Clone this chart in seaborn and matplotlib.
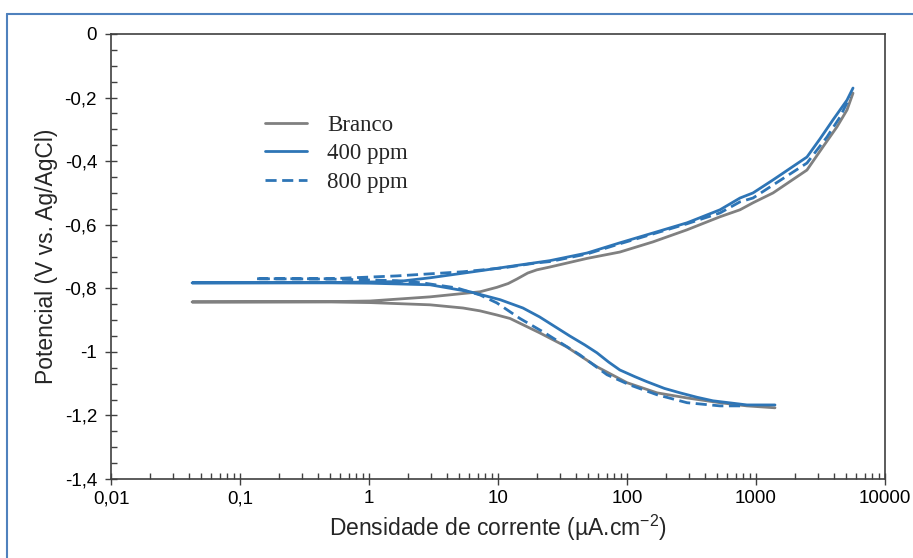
import matplotlib
matplotlib.use("Agg")
import matplotlib.pyplot as plt
import matplotlib.ticker as mticker
from matplotlib.lines import Line2D
import numpy as np
import pandas as pd
import seaborn as sns

# Branco: cathodic branch (high current -> Ecorr), then anodic branch
branco_i = [1404, 851, 526, 292, 171, 100, 58.5, 34, 21, 12.4, 9.8, 7.25, 5.35, 2.97, 1.02, 0.5, 0.0425,
            0.5, 1.02, 2.97, 7.25, 9.8, 12, 14, 17, 20, 25.3, 49, 88, 159, 292, 526, 752, 948, 1356, 2483,
            3305, 4245, 5075, 5650]
branco_E = [-1.176, -1.170, -1.160, -1.145, -1.129, -1.097, -1.047, -0.984, -0.940, -0.895, -0.884, -0.871,
            -0.862, -0.852, -0.845, -0.843, -0.843,
            -0.842, -0.840, -0.827, -0.811, -0.797, -0.785, -0.771, -0.752, -0.742, -0.733, -0.706, -0.686,
            -0.654, -0.616, -0.575, -0.553, -0.531, -0.500, -0.428, -0.355, -0.292, -0.239, -0.186]

ppm400_i = [1404, 851, 464, 350, 258, 195, 143, 115, 88, 72, 58.5, 47, 36, 21, 15.6, 10.4, 6.07, 2.97, 1.02,
            0.5, 0.0425,
            0.5, 1.65, 2.97, 7.25, 14, 25.3, 49, 88, 159, 292, 526, 752, 948, 1356, 2483, 3133, 3954,
            5075, 5650]
ppm400_E = [-1.167, -1.167, -1.154, -1.143, -1.129, -1.115, -1.094, -1.078, -1.057, -1.032, -1.003, -0.978,
            -0.950, -0.890, -0.862, -0.836, -0.811, -0.789, -0.784, -0.783, -0.783,
            -0.782, -0.779, -0.767, -0.745, -0.728, -0.713, -0.689, -0.657, -0.626, -0.594, -0.553, -0.516,
            -0.500, -0.459, -0.387, -0.330, -0.270, -0.208, -0.170]

ppm800_i = [752, 526, 292, 171, 105, 70, 43, 23, 14.8, 9.8, 7.25, 4.8, 2.6, 1.65, 0.5, 0.131,
            0.5, 1.65, 5.35, 10.9, 20, 25.3, 49, 88, 159, 292, 526, 752, 948, 1356, 2483, 3550, 4480, 5350]
ppm800_E = [-1.170, -1.170, -1.160, -1.135, -1.104, -1.072, -1.009, -0.940, -0.895, -0.846, -0.821, -0.799,
            -0.783, -0.776, -0.771, -0.770,
            -0.770, -0.761, -0.748, -0.736, -0.720, -0.716, -0.692, -0.660, -0.629, -0.597, -0.563, -0.528,
            -0.516, -0.475, -0.406, -0.324, -0.261, -0.198]

series = ['Branco', '400 ppm', '800 ppm']
x_ticks = [0.01, 0.1, 1, 10, 100, 1000, 10000]
x_labels = ['0,01', '0,1', '1', '10', '100', '1000', '10000']
y_ticks = [0, -0.2, -0.4, -0.6, -0.8, -1.0, -1.2, -1.4]
y_labels = ['0', '-0,2', '-0,4', '-0,6', '-0,8', '-1', '-1,2', '-1,4']

frames = []
for name, i, E in [('Branco', branco_i, branco_E), ('400 ppm', ppm400_i, ppm400_E),
                   ('800 ppm', ppm800_i, ppm800_E)]:
    frames.append(pd.DataFrame({'i': i, 'E': E, 'amostra': name}))
df = pd.concat(frames, ignore_index=True)

sns.set_style('white')
plt.rcParams['font.family'] = ['Liberation Sans', 'DejaVu Sans']
plt.rcParams['mathtext.fontset'] = 'custom'
plt.rcParams['mathtext.rm'] = 'Liberation Sans'
plt.rcParams['mathtext.default'] = 'regular'

colors = {'Branco': '#808080', '400 ppm': '#2e75b6', '800 ppm': '#2e75b6'}
dashes = {'Branco': '', '400 ppm': '', '800 ppm': (4, 2)}
lw = 2.0

fig = plt.figure(figsize=(9.13, 5.58), dpi=100)
ax = fig.add_axes([111 / 913, 1 - 479 / 558, 774 / 913, 445 / 558])

sns.lineplot(data=df, x='i', y='E', hue='amostra', style='amostra', hue_order=series, style_order=series,
             palette=colors, dashes=dashes, sort=False, estimator=None, linewidth=lw, legend=False, ax=ax)

ax.set_xscale('log')
ax.set_xlim(0.01, 10000)
ax.set_ylim(-1.4, 0)

ax.xaxis.set_major_locator(mticker.FixedLocator(x_ticks))
ax.xaxis.set_major_formatter(mticker.FixedFormatter(x_labels))
ax.xaxis.set_minor_locator(mticker.LogLocator(base=10, subs=np.arange(2, 10), numticks=20))
ax.xaxis.set_minor_formatter(mticker.NullFormatter())
ax.yaxis.set_major_locator(mticker.FixedLocator(y_ticks))
ax.yaxis.set_major_formatter(mticker.FixedFormatter(y_labels))
ax.yaxis.set_minor_locator(mticker.MultipleLocator(0.05))

ax.tick_params(which='both', bottom=True, left=True, top=False, right=False)
ax.tick_params(which='major', direction='inout', length=8, width=1, color='#404040',
               labelsize=13.5, labelcolor='black')
ax.tick_params(which='minor', direction='in', length=4, width=1, color='#404040')
ax.tick_params(axis='y', which='major', pad=6)
ax.tick_params(axis='x', which='major', pad=4)

for s in ax.spines.values():
    s.set_color('#404040')
    s.set_linewidth(1.2)

ax.set_xlabel('Densidade de corrente (µA.cm$^{-2}$)', fontsize=16.5, labelpad=4)
ax.set_ylabel('Potencial (V vs. Ag/AgCl)', fontsize=16.5, labelpad=5)

handles = [Line2D([], [], color=colors[n], linewidth=lw,
                  linestyle=(0, (4, 2)) if n == '800 ppm' else '-') for n in series]
ax.legend(handles, series, loc='upper left', bbox_to_anchor=(0.199, 0.818), frameon=False,
          borderpad=0, borderaxespad=0, handlelength=1.85, handletextpad=0.85, labelspacing=0.32,
          prop={'family': 'Liberation Serif', 'size': 16.5})

# outer blue frame
frame_c = '#4f81bd'
fig.add_artist(Line2D([6.5 / 913, 1], [1 - 14 / 558, 1 - 14 / 558], color=frame_c, linewidth=1.5,
                      transform=fig.transFigure))
fig.add_artist(Line2D([6.5 / 913, 6.5 / 913], [0, 1 - 14 / 558], color=frame_c, linewidth=1.5,
                      transform=fig.transFigure))

fig.savefig('out.png', dpi=100)
